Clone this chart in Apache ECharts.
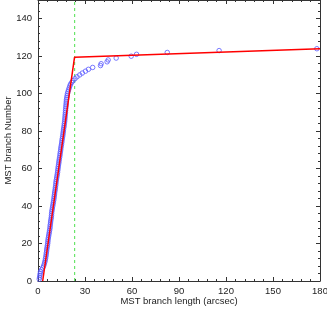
<!DOCTYPE html>
<html>
<head>
<meta charset="utf-8">
<script src="https://cdn.jsdelivr.net/npm/echarts@6/dist/echarts.min.js"></script>
<style>html,body{margin:0;padding:0;background:#fff}#c{width:327px;height:309px}</style>
</head>
<body>
<div id="c"></div>
<script>
// MST branch lengths (arcsec), sorted
var branchLength = [
  0.8, 1.0, 1.2, 1.4, 1.6, 2.3, 3.0, 3.6, 4.0, 4.3,
  4.6, 4.8, 5.0, 5.2, 5.3, 5.5, 5.6, 5.8, 6.0, 6.2,
  6.3, 6.4, 6.6, 6.8, 7.0, 7.2, 7.4, 7.6, 7.7, 7.8,
  8.0, 8.1, 8.3, 8.5, 8.6, 8.7, 8.8, 9.0, 9.2, 9.4,
  9.6, 9.8, 10.0, 10.2, 10.3, 10.5, 10.6, 10.8, 11.0, 11.1,
  11.3, 11.4, 11.5, 11.7, 11.9, 12.1, 12.3, 12.5, 12.6, 12.8,
  12.9, 13.1, 13.3, 13.4, 13.6, 13.8, 14.0, 14.1, 14.3, 14.5,
  14.6, 14.8, 15.0, 15.2, 15.3, 15.5, 15.7, 15.9, 16.0, 16.2,
  16.3, 16.5, 16.7, 16.8, 17.0, 17.1, 17.2, 17.3, 17.4, 17.5,
  17.6, 17.7, 17.8, 17.9, 18.0, 18.1, 18.2, 18.4, 18.6, 18.8,
  19.1, 19.5, 19.9, 20.3, 20.7, 21.5, 22.4, 23.6, 24.9, 26.6,
  28.3, 30.3, 32.2, 34.9, 39.9, 40.3, 44.1, 44.8, 49.9, 59.5,
  62.9, 82.5, 115.6, 178
];
// MST branch number (rank)
var branchNumber = [
  1, 2, 3, 4, 5, 6, 7, 8, 9, 10,
  11, 12, 13, 14, 15, 16, 17, 18, 19, 20,
  21, 22, 23, 24, 25, 26, 27, 28, 29, 30,
  31, 32, 33, 34, 35, 36, 37, 38, 39, 40,
  41, 42, 43, 44, 45, 46, 47, 48, 49, 50,
  51, 52, 53, 54, 55, 56, 57, 58, 59, 60,
  61, 62, 63, 64, 65, 66, 67, 68, 69, 70,
  71, 72, 73, 74, 75, 76, 77, 78, 79, 80,
  81, 82, 83, 84, 85, 86, 87, 88, 89, 90,
  91, 92, 93, 94, 95, 96, 97, 98, 99, 100,
  101, 102, 103, 104, 105, 106, 107, 108, 109, 110,
  111, 112, 113, 114, 115, 116, 117, 118, 119, 120,
  121, 122, 123, 124
];
// Broken-line fit (two segments)
var fitX = [3.0, 23.3, 180];
var fitY = [0, 119.4, 124];
// Break position (arcsec)
var breakX = [23.4, 23.4];
var breakY = [0, 150];
// Axis ranges
var xRange = [0, 180, 30];
var yRange = [0, 150, 20];

function zip(a, b) { return a.map(function (v, i) { return [v, b[i]]; }); }

var FONT = 'Liberation Sans, Arial, sans-serif';
var axisCol = '#333';
function mkAxis(type, pos, showLabel, range) {
  return {
    type: 'value', position: pos,
    min: range[0], max: range[1], interval: range[2],
    axisLine: { show: true, onZero: false, lineStyle: { color: axisCol, width: 1 } },
    axisTick: { show: true, inside: true, length: 4, lineStyle: { color: axisCol } },
    minorTick: { show: true, splitNumber: 5, length: 2, lineStyle: { color: axisCol } },
    splitLine: { show: false },
    minorSplitLine: { show: false },
    axisLabel: {
      show: showLabel, color: '#222', fontFamily: FONT, fontSize: 9.5,
      margin: type === 'x' ? 5 : 6,
      formatter: function (v) { return (type === 'y' && v === 150) ? '' : String(v); }
    }
  };
}

var xb = mkAxis('x', 'bottom', true, xRange);
xb.name = 'MST branch length (arcsec)';
xb.nameLocation = 'middle';
xb.nameGap = 15;
xb.nameMoveOverlap = false;
xb.nameTextStyle = { color: '#222', fontFamily: FONT, fontSize: 9.5 };
var yl = mkAxis('y', 'left', true, yRange);
yl.name = 'MST branch Number';
yl.nameLocation = 'middle';
yl.nameGap = 25;
yl.nameMoveOverlap = false;
yl.nameTextStyle = { color: '#222', fontFamily: FONT, fontSize: 9.5 };

var chart = echarts.init(document.getElementById('c'), null, { renderer: 'canvas' });
chart.setOption({
  animation: false,
  backgroundColor: '#fff',
  grid: { left: 38, right: 7, top: 0, bottom: 28, containLabel: false, outerBoundsMode: 'none' },
  xAxis: [xb, mkAxis('x', 'top', false, xRange)],
  yAxis: [yl, mkAxis('y', 'right', false, yRange)],
  series: [
    {
      type: 'line', data: zip(breakX, breakY), symbol: 'none',
      lineStyle: { color: '#4fe04f', width: 1, type: [3, 3] }, z: 1
    },
    {
      type: 'scatter', data: zip(branchLength, branchNumber),
      symbol: 'circle', symbolSize: 4.5,
      itemStyle: { color: 'rgba(0,0,0,0)', borderColor: '#5a5aff', borderWidth: 1 }, z: 2
    },
    {
      type: 'line', data: zip(fitX, fitY), symbol: 'none',
      lineStyle: { color: '#ff0000', width: 1.5 }, z: 3
    }
  ]
});
</script>
</body>
</html>
